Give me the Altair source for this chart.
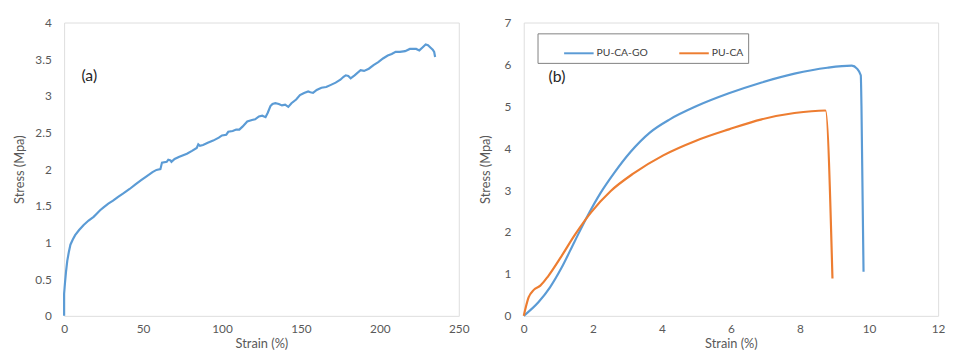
import altair as alt
import pandas as pd

# Panel (a): single stress-strain curve
a_strain = [0, 0, 0.3, 0.6, 1.2, 2, 3, 4, 5.5, 7, 9.5, 12.4, 15.5, 18.7, 20.5, 22.8, 25, 28, 31, 34, 37.5, 41.5,
            45, 48.8, 52, 56, 58.5, 61, 62, 65, 66, 67.4, 68, 70, 73, 77.8, 81, 84, 85, 86, 88, 91,
            94.4, 98, 100, 102.7, 104, 106.8, 109, 111, 113, 116, 119, 121, 123.4, 125.5, 127.6, 129, 130.7,
            132, 133.8, 136, 138, 140, 142, 144, 147, 149.4, 152, 154.6, 156, 157.7, 160, 163, 166, 169, 172,
            175, 177, 178.4, 180, 181.5, 184, 187.8, 190, 193, 196, 199, 202, 205, 207.5, 210, 212.7, 216,
            219, 221, 223, 225, 227, 229, 230.5, 232, 233.5, 234.4, 235]
a_stress = [0, 0.3, 0.38, 0.46, 0.6, 0.75, 0.87, 0.97, 1.04, 1.1, 1.17, 1.24, 1.3, 1.35, 1.39, 1.44, 1.48, 1.53,
            1.57, 1.62, 1.67, 1.73, 1.79, 1.85, 1.9, 1.96, 1.99, 2.0, 2.09, 2.1, 2.13, 2.12, 2.1, 2.14, 2.17,
            2.21, 2.25, 2.29, 2.34, 2.32, 2.33, 2.36, 2.39, 2.43, 2.46, 2.47, 2.51, 2.52, 2.54, 2.54, 2.58,
            2.65, 2.67, 2.68, 2.72, 2.73, 2.71, 2.77, 2.86, 2.89, 2.9, 2.89, 2.87, 2.88, 2.85, 2.9, 2.95, 3.01,
            3.04, 3.06, 3.05, 3.04, 3.08, 3.11, 3.12, 3.15, 3.18, 3.22, 3.26, 3.28, 3.27, 3.24, 3.28, 3.35,
            3.34, 3.37, 3.42, 3.46, 3.51, 3.55, 3.57, 3.6, 3.6, 3.61, 3.64, 3.64, 3.64, 3.62, 3.66, 3.7, 3.69,
            3.66, 3.63, 3.6, 3.53]

# Panel (b): two samples
go_strain = [0, 0.43, 0.76, 1.09, 1.47, 1.85, 2.23, 2.61, 3.09, 3.66, 4.23, 4.99, 5.94, 6.89, 7.84, 8.79,
             9.5, 9.65, 9.76, 9.78, 9.84]
go_stress = [0, 0.33, 0.68, 1.14, 1.77, 2.39, 2.94, 3.4, 3.91, 4.38, 4.69, 5.0, 5.31, 5.57, 5.78, 5.92,
             5.97, 5.9, 5.74, 5.0, 1.05]
ca_strain = [0, 0.14, 0.29, 0.48, 0.71, 1.09, 1.47, 1.95, 2.52, 3.18, 4.04, 4.99, 5.94, 6.89, 7.84, 8.74, 8.94]
ca_stress = [0, 0.44, 0.62, 0.72, 0.95, 1.42, 1.92, 2.47, 2.98, 3.4, 3.83, 4.18, 4.45, 4.69, 4.84, 4.9, 0.89]

a_yticks = [0, 0.5, 1, 1.5, 2, 2.5, 3, 3.5, 4]
a_xticks = [0, 50, 100, 150, 200, 250]
b_yticks = [0, 1, 2, 3, 4, 5, 6, 7]
b_xticks = [0, 2, 4, 6, 8, 10, 12]

panel_labels = ["(a)", "(b)"]
label_pos_a = [11, 3.27]
label_pos_b = [0.72, 5.7]

series_names = ["PU-CA-GO", "PU-CA"]
series_colors = ["#5b9bd5", "#ed7d31"]

df_a = pd.DataFrame({"strain": a_strain, "stress": a_stress, "order": range(len(a_strain))})
df_b = pd.concat([
    pd.DataFrame({"strain": go_strain, "stress": go_stress, "order": range(len(go_strain)), "sample": series_names[0]}),
    pd.DataFrame({"strain": ca_strain, "stress": ca_stress, "order": range(len(ca_strain)), "sample": series_names[1]}),
])

FONT = "Lato"
GRAY = "#595959"

def xaxis(vals):
    return alt.Axis(values=vals, grid=False, domain=False, ticks=False, labelPadding=8,
                    labelColor=GRAY, labelFontSize=12, labelFont=FONT, title="Strain (%)",
                    titleColor=GRAY, titleFontSize=13, titleFont=FONT, titleFontWeight="normal",
                    titlePadding=3, labelFlush=False, labelOverlap=False)

def yaxis(vals, tp):
    return alt.Axis(values=vals, grid=False, domain=False, ticks=False, labelPadding=13,
                    labelColor=GRAY, labelFontSize=12, labelFont=FONT, labelExpr="format(datum.value, '~g')",
                    title="Stress (Mpa)",
                    titleColor=GRAY, titleFontSize=13, titleFont=FONT, titleFontWeight="normal",
                    titlePadding=tp, labelFlush=False, labelOverlap=False)

xa = alt.X("strain:Q", scale=alt.Scale(domain=[0, 250], nice=False), axis=xaxis(a_xticks))
ya = alt.Y("stress:Q", scale=alt.Scale(domain=[0, 4], nice=False), axis=yaxis(a_yticks, 8))

line_a = alt.Chart(df_a).mark_line(color=series_colors[0], strokeWidth=2.2).encode(x=xa, y=ya, order="order:Q")
lab_a = alt.Chart(pd.DataFrame({"t": [panel_labels[0]], "strain": [label_pos_a[0]], "stress": [label_pos_a[1]]})).mark_text(
    font=FONT, fontSize=16, color="#262626", align="left").encode(x=xa, y=ya, text="t:N")
panel_a = alt.layer(line_a, lab_a).properties(width=401, height=298)

xb = alt.X("strain:Q", scale=alt.Scale(domain=[0, 12], nice=False), axis=xaxis(b_xticks))
yb = alt.Y("stress:Q", scale=alt.Scale(domain=[0, 7], nice=False), axis=yaxis(b_yticks, 12))

line_b = alt.Chart(df_b).mark_line(strokeWidth=2.2, interpolate="monotone").encode(
    x=xb, y=yb,
    color=alt.Color("sample:N", scale=alt.Scale(domain=series_names, range=series_colors),
                    legend=alt.Legend(orient="none", legendX=481, legendY=11, direction="horizontal", title=None,
                                      strokeColor="#7f7f7f", padding=4, symbolType="stroke", symbolSize=900,
                                      symbolStrokeWidth=2, labelFont=FONT, labelFontSize=10.5, labelColor="#404040",
                                      labelOffset=2, columnPadding=8, symbolOffset=22)),
    order="order:Q",
)
lab_b = alt.Chart(pd.DataFrame({"t": [panel_labels[1]], "strain": [label_pos_b[0]], "stress": [label_pos_b[1]]})).mark_text(
    font=FONT, fontSize=16, color="#262626", align="left").encode(x=xb, y=yb, text="t:N")
panel_b = alt.layer(line_b, lab_b).properties(width=421, height=298)

chart = alt.hconcat(panel_a, panel_b, spacing=9).properties(
    padding={"left": 5, "top": 5, "right": 0, "bottom": 0}
).configure_view(stroke="#8c8c8c", strokeWidth=1.2).configure(background="white")

chart.save("out.html", embed_options={"renderer": "svg", "actions": False})
